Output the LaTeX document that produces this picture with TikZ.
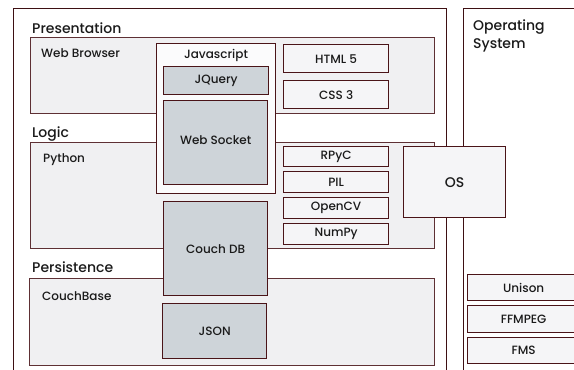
\documentclass[tikz,border=0pt]{standalone}
\usepackage{fontspec}
\setmainfont{Poppins}[UprightFont={* Medium}]
\definecolor{frame}{HTML}{4A1418}
\definecolor{outerline}{HTML}{3E1013}
\definecolor{layerline}{HTML}{5E3034}
\definecolor{layerfill}{HTML}{F0F0F2}
\definecolor{itemfill}{HTML}{F5F5F7}
\definecolor{grayfill}{HTML}{CED4D9}
\definecolor{textcol}{HTML}{1A1A1A}
\begin{document}
\begin{tikzpicture}[x=1pt,y=-1pt, every node/.style={text=textcol},
  outerbox/.style={draw=outerline, fill=white, line width=0.9pt},
  layerbox/.style={draw=layerline, fill=layerfill, line width=0.9pt},
  itembox/.style={draw=frame, fill=itemfill, line width=1.3pt, inner sep=0pt,
     anchor=north west, font=\fontsize{12}{14}\selectfont},
  graybox/.style={itembox, fill=grayfill},
  heading/.style={anchor=base west, inner sep=0pt, font=\fontsize{14}{16}\selectfont},
  sublabel/.style={anchor=base west, inner sep=0pt, font=\fontsize{12}{14}\selectfont}
]
\useasboundingbox (0,0) rectangle (574,370);
\clip (0,0) rectangle (574,370);

% outer columns
\path[outerbox] (13,8) rectangle (446,380);
\path[outerbox] (463,8) rectangle (590,380);

% layer boxes
\path[layerbox] (30,37) rectangle (434,113);
\path[layerbox] (30,142) rectangle (434,248);
\path[layerbox] (29,278) rectangle (434,365);

% headings
\node[heading] (presentation) at (32,33) {Presentation};
\node[heading] (logic) at (32,137) {Logic};
\node[heading] (persistence) at (32,272) {Persistence};
\node[heading] (os1) at (473,30) {Operating};
\node[heading] (os2) at (473,48) {System};
\node[sublabel] (browser) at (41,57) {Web Browser};
\node[sublabel] (python) at (43,162) {Python};
\node[sublabel] (couchbase) at (42,300) {CouchBase};

% presentation items
\node[itembox, fill=white!60!itemfill, minimum width=119pt, minimum height=150pt] (js) at (156,43) {};
\node[sublabel, anchor=base] (jslabel) at (216,58) {Javascript};
\node[graybox, minimum width=105pt, minimum height=28pt] (jquery) at (163,66) {JQuery};
\node[graybox, minimum width=104pt, minimum height=84pt, text depth=6pt] (socket) at (163,100) {Web Socket};
\node[itembox, minimum width=105pt, minimum height=28pt] (html) at (283,44) {HTML 5};
\node[itembox, minimum width=105pt, minimum height=28pt] (css) at (283,80) {CSS 3};

% logic items
\node[itembox, minimum width=105pt, minimum height=20pt] (rpyc) at (283,146) {RPyC};
\node[itembox, minimum width=105pt, minimum height=21pt] (pil) at (283,171) {PIL};
\node[itembox, minimum width=105pt, minimum height=21pt] (opencv) at (283,197) {OpenCV};
\node[itembox, minimum width=105pt, minimum height=21pt] (numpy) at (283,223) {NumPy};
\node[itembox, minimum width=102pt, minimum height=71pt, font=\fontsize{14}{16}\selectfont] (os) at (403,146) {OS};

% persistence items
\node[graybox, minimum width=104pt, minimum height=94pt] (couchdb) at (163,201) {Couch DB};
\node[graybox, minimum width=104pt, minimum height=55pt] (json) at (162,303) {JSON};

% operating system items
\node[itembox, minimum width=112pt, minimum height=26pt, text width=105pt, align=center] (unison) at (467,274) {Unison};
\node[itembox, minimum width=112pt, minimum height=27pt, text width=105pt, align=center] (ffmpeg) at (467,305) {FFMPEG};
\node[itembox, minimum width=112pt, minimum height=26pt, text width=105pt, align=center] (fms) at (467,337) {FMS};
\end{tikzpicture}
\end{document}
